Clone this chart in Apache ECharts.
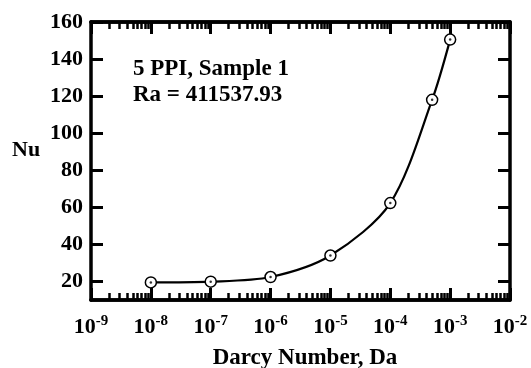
<!DOCTYPE html>
<html>
<head>
<meta charset="utf-8">
<script src="https://cdn.jsdelivr.net/npm/echarts@6/dist/echarts.min.js"></script>
<style>
  html, body { margin: 0; padding: 0; background: #fff; }
  #chart { width: 531px; height: 368px; }
</style>
</head>
<body>
<div id="chart"></div>
<script>
(function () {
  // data ---------------------------------------------------------------
  var darcy = [1e-8, 1e-7, 1e-6, 1e-5, 1e-4, 5e-4, 1e-3];
  var nusselt = [19.5, 19.9, 22.4, 34.0, 62.3, 118.0, 150.5];
  var decades = [-9, -8, -7, -6, -5, -4, -3, -2];
  var nuTicks = [20, 40, 60, 80, 100, 120, 140, 160];
  var noteLines = ['5 PPI, Sample 1', 'Ra = 411537.93'];

  var FONT = '"Liberation Serif", "Times New Roman", serif';

  // x axis runs in log10 space so minor ticks can sit at log positions
  var points = [];
  for (var i = 0; i < darcy.length; i++) {
    points.push([Math.log10(darcy[i]), nusselt[i]]);
  }
  var minorTicks = [];
  for (var d = 0; d < decades.length - 1; d++) {
    for (var k = 2; k <= 9; k++) {
      minorTicks.push(decades[d] + Math.log10(k));
    }
  }

  function xAxisBase(pos, ticks, len, w) {
    return {
      type: 'value',
      position: pos,
      min: decades[0],
      max: decades[decades.length - 1],
      interval: 1,
      splitLine: { show: false },
      axisLine: { show: true, lineStyle: { color: '#000', width: 3.5 } },
      axisTick: {
        show: true, inside: true, length: len,
        customValues: ticks,
        lineStyle: { color: '#000', width: w }
      },
      axisLabel: { show: false }
    };
  }

  var xMainBottom = xAxisBase('bottom', decades, 12, 3);
  xMainBottom.axisLabel = {
    show: true,
    margin: 14,
    customValues: decades,
    formatter: function (v) { return '{b|10}{s|' + Math.round(v) + '}'; },
    rich: {
      b: { fontFamily: FONT, fontWeight: 'bold', fontSize: 22, color: '#000', verticalAlign: 'bottom', lineHeight: 24 },
      s: { fontFamily: FONT, fontWeight: 'bold', fontSize: 15, color: '#000', verticalAlign: 'top', lineHeight: 15 }
    }
  };
  xMainBottom.name = 'Darcy Number, Da';
  xMainBottom.nameLocation = 'middle';
  xMainBottom.nameGap = 47;
  xMainBottom.nameTextStyle = {
    fontFamily: FONT, fontWeight: 'bold', fontSize: 23, color: '#000',
    padding: [0, 0, 0, 9]
  };

  function yAxisBase(pos, showLabel) {
    return {
      type: 'value',
      position: pos,
      min: 10,
      max: 160,
      splitLine: { show: false },
      axisLine: { show: true, lineStyle: { color: '#000', width: 3.5 } },
      axisTick: {
        show: true, inside: true, length: 12,
        customValues: nuTicks,
        lineStyle: { color: '#000', width: 3 }
      },
      axisLabel: {
        show: showLabel,
        customValues: nuTicks,
        margin: 8,
        fontFamily: FONT, fontWeight: 'bold', fontSize: 22, color: '#000'
      }
    };
  }

  var chart = echarts.init(document.getElementById('chart'));
  chart.setOption({
    animation: false,
    backgroundColor: '#fff',
    grid: { left: 91, right: 21, top: 22, bottom: 68, outerBoundsMode: 'none' },
    xAxis: [
      xMainBottom,
      xAxisBase('bottom', minorTicks, 7, 2.5),
      xAxisBase('top', decades, 12, 3),
      xAxisBase('top', minorTicks, 7, 2.5)
    ],
    yAxis: [
      yAxisBase('left', true),
      yAxisBase('right', false)
    ],
    graphic: [
      {
        type: 'text', left: 12, top: 139,
        style: { text: 'Nu', fontFamily: FONT, fontWeight: 'bold', fontSize: 22, fill: '#000' }
      },
      {
        type: 'text', left: 133, top: 56,
        style: {
          text: noteLines.join('\n'), lineHeight: 26,
          fontFamily: FONT, fontWeight: 'bold', fontSize: 23, fill: '#000'
        }
      }
    ],
    series: [
      {
        name: 'Nu',
        type: 'line',
        xAxisIndex: 0,
        yAxisIndex: 0,
        smooth: 0.3,
        data: points,
        symbol: 'circle',
        symbolSize: 11,
        lineStyle: { color: '#000', width: 2.2 },
        itemStyle: { color: '#fff', borderColor: '#000', borderWidth: 1.5 },
        z: 3
      },
      {
        name: 'dot',
        type: 'scatter',
        xAxisIndex: 0,
        yAxisIndex: 0,
        data: points,
        symbol: 'circle',
        symbolSize: 2.5,
        itemStyle: { color: '#000' },
        z: 4
      }
    ]
  });
})();
</script>
</body>
</html>
